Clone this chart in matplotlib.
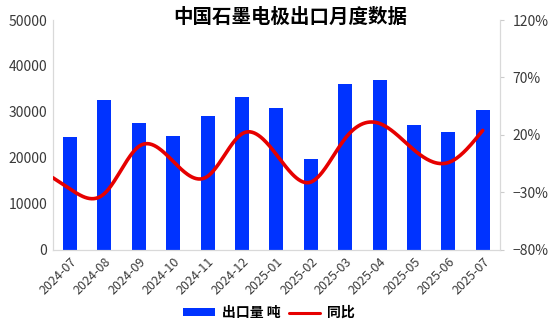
import numpy as np
import matplotlib
matplotlib.use('Agg')
import matplotlib.pyplot as plt

plt.rcParams['font.family'] = ['Noto Sans CJK SC', 'DejaVu Sans']

months = ['2024-07', '2024-08', '2024-09', '2024-10', '2024-11', '2024-12',
          '2025-01', '2025-02', '2025-03', '2025-04', '2025-05', '2025-06', '2025-07']
export_t = [24500, 32600, 27600, 24800, 29100, 33300,
            30900, 19800, 36100, 37000, 27200, 25600, 30400]
yoy_pct = [-27, -31, 10, -3, -16, 21,
           3, -21, 17, 30, 7, -4, 24]


def natural_spline(x, y, xs):
    # plain natural cubic spline, just for drawing the smooth curve
    x = np.asarray(x, float)
    y = np.asarray(y, float)
    n = len(x)
    h = np.diff(x)
    A = np.zeros((n, n))
    b = np.zeros(n)
    A[0, 0] = 1
    A[-1, -1] = 1
    for i in range(1, n - 1):
        A[i, i - 1] = h[i - 1]
        A[i, i] = 2 * (h[i - 1] + h[i])
        A[i, i + 1] = h[i]
        b[i] = 3 * ((y[i + 1] - y[i]) / h[i] - (y[i] - y[i - 1]) / h[i - 1])
    c = np.linalg.solve(A, b)
    bb = (np.diff(y) / h) - h * (2 * c[:-1] + c[1:]) / 3
    d = np.diff(c) / (3 * h)
    idx = np.clip(np.searchsorted(x, xs) - 1, 0, n - 2)
    dx = xs - x[idx]
    out = (xs < x[0]) | (xs > x[-1])
    # linear extrapolation outside the range (natural end condition)
    cc = np.where(out, 0, c[idx])
    dd = np.where(out, 0, d[idx])
    return y[idx] + bb[idx] * dx + cc * dx ** 2 + dd * dx ** 3


x = np.arange(len(months))

fig, ax1 = plt.subplots(figsize=(5.5, 3.2), dpi=100)
fig.subplots_adjust(left=0.096, right=0.909, top=0.9375, bottom=0.219)

bars = ax1.bar(x, export_t, width=0.41, color='#0033FF', label='出口量 吨', zorder=2)
ax1.set_ylim(0, 50000)
ax1.set_yticks([0, 10000, 20000, 30000, 40000, 50000])
ax1.set_xlim(-0.5, len(months) - 0.5)
ax1.set_xticks(x)
ax1.set_xticklabels(months, rotation=45, ha='right', rotation_mode='anchor')
ax1.tick_params(axis='y', length=0, labelsize=10, labelcolor='#3a3a3a', pad=4)
ax1.tick_params(axis='x', length=0, labelsize=9, labelcolor='#3a3a3a', pad=4)

ax2 = ax1.twinx()
xs = np.linspace(-0.5, len(months) - 1, 400)
line, = ax2.plot(xs, natural_spline(x, yoy_pct, xs), color='#E60000', lw=2.6,
                 label='同比', solid_capstyle='round', zorder=3)
ax2.set_ylim(-80, 120)
ax2.set_yticks([-80, -30, 20, 70, 120])
ax2.set_yticklabels(['{}%'.format(v).replace('-', '\u2212') for v in [-80, -30, 20, 70, 120]])
ax2.tick_params(axis='y', length=3, color='#cccccc', labelsize=10, labelcolor='#3a3a3a', pad=6)

for ax in (ax1, ax2):
    ax.spines['top'].set_visible(False)
    for s in ('left', 'right', 'bottom'):
        ax.spines[s].set_color('#d9d9d9')
        ax.spines[s].set_linewidth(0.8)

fig.text(0.527, 0.947, '中国石墨电极出口月度数据', ha='center', va='center',
         fontsize=14, fontweight='bold')

leg = fig.legend([bars, line], ['出口量 吨', '同比'], loc='center',
                 bbox_to_anchor=(0.489, 0.022), ncol=2, frameon=False,
                 handlelength=2.3, handleheight=0.5, handletextpad=0.5,
                 columnspacing=0.6, borderpad=0.2,
                 prop={'size': 10, 'weight': 'bold'})
leg.get_lines()[0].set_linewidth(2.2)

plt.savefig('out.png', dpi=100)
